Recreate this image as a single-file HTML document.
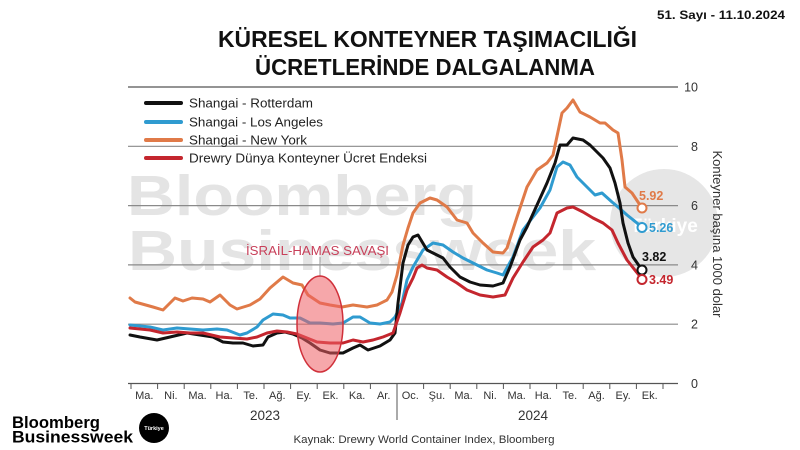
<!DOCTYPE html>
<html>
<head>
<meta charset="utf-8">
<style>
html,body{margin:0;padding:0;background:#fff;}
svg{display:block;}
text{font-family:"Liberation Sans","DejaVu Sans",sans-serif;}
</style>
</head>
<body>
<svg width="800" height="450" viewBox="0 0 800 450" xmlns="http://www.w3.org/2000/svg">
<rect x="0" y="0" width="800" height="450" fill="#ffffff"/>

<!-- watermark -->
<text x="127" y="215" font-size="57" font-weight="bold" fill="#e4e4e4" textLength="350" lengthAdjust="spacingAndGlyphs">Bloomberg</text>
<text x="128" y="270" font-size="57" font-weight="bold" fill="#e4e4e4" textLength="468" lengthAdjust="spacingAndGlyphs">Businessweek</text>
<circle cx="664" cy="223" r="54" fill="#e6e6e6"/>
<text x="664" y="232" font-size="19" font-weight="bold" fill="#ffffff" text-anchor="middle">Türkiye</text>

<!-- gridlines -->
<g stroke="#8a8a8a" stroke-width="1.2">
<line x1="128" y1="87" x2="678" y2="87" stroke="#555"/>
<line x1="128" y1="146.3" x2="678" y2="146.3"/>
<line x1="128" y1="205.6" x2="678" y2="205.6"/>
<line x1="128" y1="264.9" x2="678" y2="264.9"/>
<line x1="128" y1="324.2" x2="678" y2="324.2"/>
<line x1="128" y1="383.5" x2="678" y2="383.5" stroke="#555"/>
</g>

<!-- ticks -->
<g stroke="#555" stroke-width="1">
<line x1="131" y1="383.5" x2="131" y2="389"/>
<line x1="157.6" y1="383.5" x2="157.6" y2="389"/>
<line x1="184.2" y1="383.5" x2="184.2" y2="389"/>
<line x1="210.8" y1="383.5" x2="210.8" y2="389"/>
<line x1="237.4" y1="383.5" x2="237.4" y2="389"/>
<line x1="264" y1="383.5" x2="264" y2="389"/>
<line x1="290.6" y1="383.5" x2="290.6" y2="389"/>
<line x1="317.2" y1="383.5" x2="317.2" y2="389"/>
<line x1="343.8" y1="383.5" x2="343.8" y2="389"/>
<line x1="370.4" y1="383.5" x2="370.4" y2="389"/>
<line x1="397" y1="383.5" x2="397" y2="420"/>
<line x1="423.6" y1="383.5" x2="423.6" y2="389"/>
<line x1="450.2" y1="383.5" x2="450.2" y2="389"/>
<line x1="476.8" y1="383.5" x2="476.8" y2="389"/>
<line x1="503.4" y1="383.5" x2="503.4" y2="389"/>
<line x1="530" y1="383.5" x2="530" y2="389"/>
<line x1="556.6" y1="383.5" x2="556.6" y2="389"/>
<line x1="583.2" y1="383.5" x2="583.2" y2="389"/>
<line x1="609.8" y1="383.5" x2="609.8" y2="389"/>
<line x1="636.4" y1="383.5" x2="636.4" y2="389"/>
<line x1="663" y1="383.5" x2="663" y2="389"/>
</g>

<!-- month labels -->
<g font-size="11" fill="#333" text-anchor="middle">
<text x="144.3" y="399">Ma.</text>
<text x="170.9" y="399">Ni.</text>
<text x="197.5" y="399">Ma.</text>
<text x="224.1" y="399">Ha.</text>
<text x="250.7" y="399">Te.</text>
<text x="277.3" y="399">Ağ.</text>
<text x="303.9" y="399">Ey.</text>
<text x="330.5" y="399">Ek.</text>
<text x="357.1" y="399">Ka.</text>
<text x="383.7" y="399">Ar.</text>
<text x="410.3" y="399">Oc.</text>
<text x="436.9" y="399">Şu.</text>
<text x="463.5" y="399">Ma.</text>
<text x="490.1" y="399">Ni.</text>
<text x="516.7" y="399">Ma.</text>
<text x="543.3" y="399">Ha.</text>
<text x="569.9" y="399">Te.</text>
<text x="596.5" y="399">Ağ.</text>
<text x="623.1" y="399">Ey.</text>
<text x="649.7" y="399">Ek.</text>
</g>
<text x="265" y="420" font-size="13.5" fill="#333" text-anchor="middle">2023</text>
<text x="533" y="420" font-size="13.5" fill="#333" text-anchor="middle">2024</text>

<!-- series -->
<g fill="none" stroke-width="3" stroke-linejoin="round" stroke-linecap="round">
<polyline stroke="#e07a48" points="130,298 135,302 153,307 163,310 175,298 183,301 192,298 203,299 210,302 220,295 230,305 237,309 250,305 260,299 270,288 283,277 293,283 302,285 308,295 320,303 330,305 342,307 353,305 367,307 377,305 387,300 392,292 397,275 403,245 408,228 413,213 420,203 430,198 437,200 447,207 457,220 467,223 473,233 483,243 493,252 503,253 507,248 517,217 527,187 537,170 547,163 553,155 562,113 567,108 573,100 580,112 590,117 600,123 605,123 613,130 618,133 622,160 625,187 632,193 642,208"/>
<polyline stroke="#2f9bd0" points="130,325 150,327 163,330 177,328 190,329 203,330 217,329 227,330 240,335 247,333 257,327 263,320 273,314 283,315 290,318 300,318 310,323 320,323 333,324 343,323 353,317 360,317 370,323 380,324 390,322 395,317 402,303 407,280 413,267 423,250 433,243 443,245 453,252 463,258 477,265 487,270 497,273 503,275 513,257 523,230 533,217 540,208 550,190 557,167 563,162 570,165 577,177 587,187 595,195 602,193 612,202 618,207 627,215 642,227"/>
<polyline stroke="#111111" points="130,335 140,337 157,340 170,337 187,333 200,335 213,337 223,342 233,343 243,343 253,346 263,345 268,337 277,333 285,332 293,334 302,338 310,343 320,350 330,353 343,353 353,348 360,345 368,350 380,346 390,340 395,333 398,303 403,263 408,245 413,237 418,235 427,250 433,253 443,258 450,267 460,277 470,282 480,285 493,286 503,283 510,267 520,240 527,227 537,205 547,183 555,163 560,145 567,145 573,138 583,140 590,145 597,152 603,158 610,168 615,183 620,203 623,223 628,243 633,257 642,270"/>
<polyline stroke="#c4262e" points="130,328 150,330 163,333 177,332 190,333 203,333 220,337 233,338 247,339 257,337 267,333 277,331 287,332 297,334 307,338 317,342 330,343 343,343 353,340 363,342 373,340 383,337 393,333 400,313 407,290 413,278 417,268 422,265 427,268 437,270 447,277 457,283 467,290 480,295 493,297 505,295 513,278 523,262 533,247 543,240 550,233 557,213 567,208 573,207 583,212 593,218 603,223 612,230 618,243 627,260 642,279"/>
</g>

<!-- end markers -->
<g fill="#fff" stroke-width="2">
<circle cx="642" cy="208" r="4.5" stroke="#e07a48"/>
<circle cx="642" cy="227.5" r="4.5" stroke="#2f9bd0"/>
<circle cx="642" cy="270" r="4.5" stroke="#111"/>
<circle cx="642" cy="279.5" r="4.5" stroke="#c4262e"/>
</g>
<g font-size="12.5" font-weight="bold">
<text x="639" y="200" fill="#e07a48">5.92</text>
<text x="649" y="232" fill="#2f9bd0">5.26</text>
<text x="642" y="261" fill="#111">3.82</text>
<text x="649" y="284" fill="#c4262e">3.49</text>
</g>

<!-- annotation -->
<line x1="320" y1="257" x2="320" y2="277" stroke="#999" stroke-width="1"/>
<ellipse cx="320" cy="324" rx="23" ry="48" fill="rgba(238,95,100,0.55)" stroke="#d0303a" stroke-width="1.5"/>
<text x="246" y="255" font-size="13" fill="#c8405a" textLength="143" lengthAdjust="spacingAndGlyphs">İSRAİL-HAMAS SAVAŞI</text>

<!-- legend -->
<g stroke-width="4" stroke-linecap="round">
<line x1="146" y1="103" x2="181" y2="103" stroke="#111"/>
<line x1="146" y1="122" x2="181" y2="122" stroke="#2f9bd0"/>
<line x1="146" y1="140" x2="181" y2="140" stroke="#e07a48"/>
<line x1="146" y1="158" x2="181" y2="158" stroke="#c4262e"/>
</g>
<g font-size="13.2" fill="#222">
<text x="189" y="107.5" textLength="124" lengthAdjust="spacingAndGlyphs">Shangai - Rotterdam</text>
<text x="189" y="126.5" textLength="134" lengthAdjust="spacingAndGlyphs">Shangai - Los Angeles</text>
<text x="189" y="144.5" textLength="118" lengthAdjust="spacingAndGlyphs">Shangai - New York</text>
<text x="189" y="162.5" textLength="238" lengthAdjust="spacingAndGlyphs">Drewry Dünya Konteyner Ücret Endeksi</text>
</g>

<!-- title -->
<text x="218" y="47" font-size="23" font-weight="bold" fill="#111" textLength="419" lengthAdjust="spacingAndGlyphs">KÜRESEL KONTEYNER TAŞIMACILIĞI</text>
<text x="255" y="75" font-size="23" font-weight="bold" fill="#111" textLength="340" lengthAdjust="spacingAndGlyphs">ÜCRETLERİNDE DALGALANMA</text>
<text x="657" y="19" font-size="12" font-weight="bold" fill="#111" textLength="128" lengthAdjust="spacingAndGlyphs">51. Sayı - 11.10.2024</text>

<!-- right axis -->
<g font-size="12.5" fill="#333" text-anchor="end">
<text x="698" y="91.5">10</text>
<text x="698" y="150.8">8</text>
<text x="698" y="210">6</text>
<text x="698" y="269.4">4</text>
<text x="698" y="328.7">2</text>
<text x="698" y="388">0</text>
</g>
<text transform="translate(713,234) rotate(90)" font-size="13" fill="#333" text-anchor="middle">Konteyner başına 1000 dolar</text>

<!-- source -->
<text x="424" y="443" font-size="11" fill="#333" text-anchor="middle" textLength="261" lengthAdjust="spacingAndGlyphs">Kaynak: Drewry World Container Index, Bloomberg</text>

<!-- logo -->
<text x="12" y="428" font-size="16.5" font-weight="bold" fill="#000" textLength="88" lengthAdjust="spacingAndGlyphs">Bloomberg</text>
<text x="12" y="442.5" font-size="16.5" font-weight="bold" fill="#000" textLength="121" lengthAdjust="spacingAndGlyphs">Businessweek</text>
<circle cx="154" cy="428" r="15" fill="#000"/>
<text x="154" y="430" font-size="5.5" font-weight="bold" fill="#fff" text-anchor="middle">Türkiye</text>
</svg>
</body>
</html>
